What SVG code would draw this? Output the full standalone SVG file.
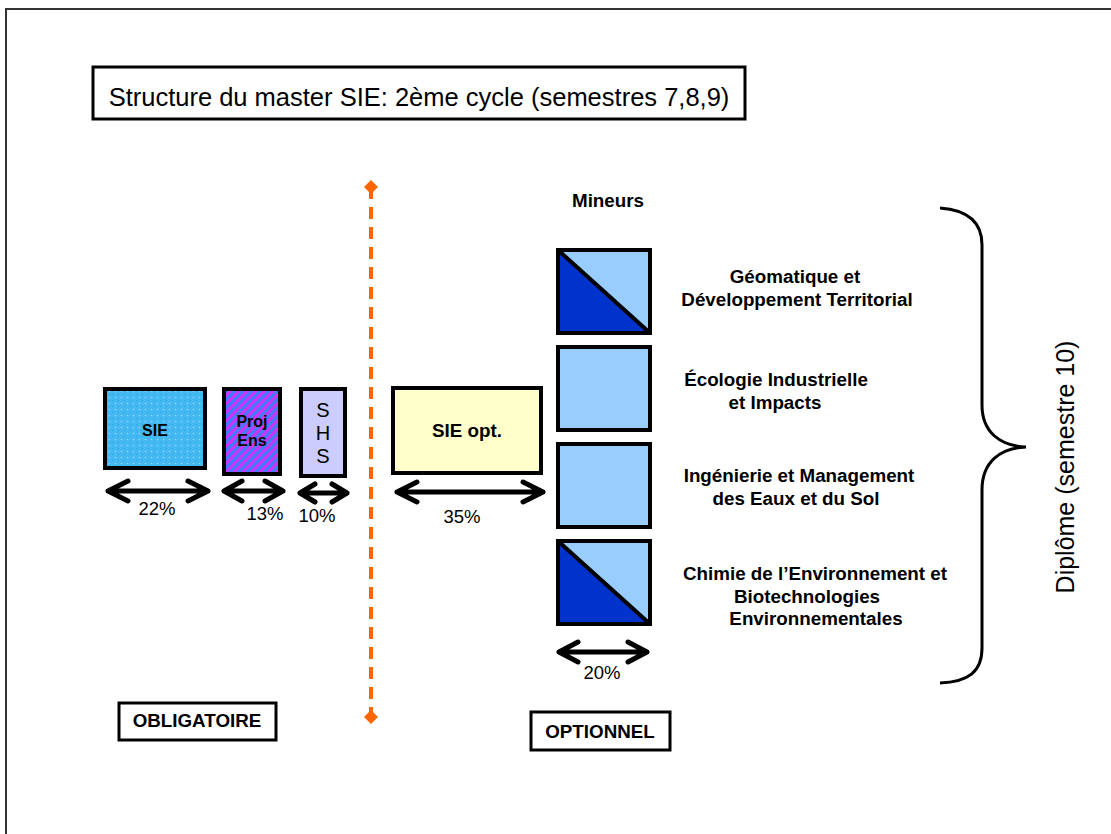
<svg xmlns="http://www.w3.org/2000/svg" width="1111" height="834" viewBox="0 0 1111 834">
<defs>
<pattern id="dots" width="6" height="6" patternUnits="userSpaceOnUse">
<rect width="6" height="6" fill="#44B8F0"/>
<circle cx="1.5" cy="1.5" r="0.8" fill="#8FD6FF"/>
<circle cx="4.5" cy="4.5" r="0.7" fill="#2FA6E6"/>
</pattern>
<pattern id="hatch" width="6" height="6" patternUnits="userSpaceOnUse" patternTransform="rotate(45)">
<rect width="6" height="6" fill="#3F7CF5"/>
<rect width="3" height="6" fill="#CC33FF"/>
</pattern>
</defs>
<style>
.box{stroke:#000;stroke-width:4}
.lbl{font-family:"Liberation Sans",Arial,sans-serif;font-weight:bold;font-size:18.8px;fill:#000;text-anchor:middle}
.sm{font-size:16px}
.pct{font-family:"Liberation Sans",Arial,sans-serif;font-size:18.5px;fill:#000;text-anchor:middle}
.arr{fill:none;stroke:#000;stroke-width:5;stroke-linecap:round;stroke-linejoin:round}
</style>
<path d="M6,834 V9 H1111" fill="none" stroke="#333" stroke-width="2"/>
<g id="title">
<rect x="93" y="67" width="652" height="52" fill="#fff" stroke="#000" stroke-width="3"/>
<text x="419" y="106" font-family="Liberation Sans,Arial,sans-serif" font-size="25.5" text-anchor="middle">Structure du master SIE: 2ème cycle (semestres 7,8,9)</text>
</g>
<g id="sie">
<rect class="box" x="105" y="389" width="100" height="79" fill="url(#dots)"/>
<text class="lbl sm" x="155" y="436">SIE</text>
</g>
<g id="proj">
<rect class="box" x="224" y="389" width="56" height="85" fill="url(#hatch)"/>
<text class="lbl sm" x="252" y="427">Proj</text>
<text class="lbl sm" x="252" y="446">Ens</text>
</g>
<g id="shs">
<rect class="box" x="301" y="389" width="44" height="87" fill="#CCCCFF"/>
<text class="pct" x="323" y="417" style="font-size:20px">S</text>
<text class="pct" x="323" y="440" style="font-size:20px">H</text>
<text class="pct" x="323" y="463" style="font-size:20px">S</text>
</g>
<g id="sieopt">
<rect class="box" x="393" y="388" width="148" height="85" fill="#FFFFCC"/>
<text class="lbl" x="467" y="437">SIE opt.</text>
</g>
<g id="divider">
<line x1="371" y1="187" x2="371" y2="717" stroke="#FF6600" stroke-width="4" stroke-dasharray="12,8"/>
<path d="M371,180 L378,187 L371,194 L364,187 Z" fill="#FF6600"/>
<path d="M371,710 L378,717 L371,724 L364,717 Z" fill="#FF6600"/>
</g>
<g id="mineurs">
<text class="lbl" x="608" y="207">Mineurs</text>
</g>
<g id="m1">
<rect x="558" y="250" width="92" height="83" fill="#99CCFF"/>
<path d="M558,250 L650,333 L558,333 Z" fill="#0033CC"/>
<rect class="box" x="558" y="250" width="92" height="83" fill="none"/>
<line x1="558" y1="250" x2="650" y2="333" stroke="#000" stroke-width="4"/>
<text class="lbl" x="795" y="283">Géomatique et</text>
<text class="lbl" x="797" y="306">Développement Territorial</text>
</g>
<g id="m2">
<rect class="box" x="558" y="347" width="92" height="83" fill="#99CCFF"/>
<text class="lbl" x="776" y="386">Écologie Industrielle</text>
<text class="lbl" x="775" y="409">et Impacts</text>
</g>
<g id="m3">
<rect class="box" x="558" y="444" width="92" height="83" fill="#99CCFF"/>
<text class="lbl" x="799" y="482">Ingénierie et Management</text>
<text class="lbl" x="796" y="505">des Eaux et du Sol</text>
</g>
<g id="m4">
<rect x="558" y="541" width="92" height="83" fill="#99CCFF"/>
<path d="M558,541 L650,624 L558,624 Z" fill="#0033CC"/>
<rect class="box" x="558" y="541" width="92" height="83" fill="none"/>
<line x1="558" y1="541" x2="650" y2="624" stroke="#000" stroke-width="4"/>
<text class="lbl" x="815" y="580">Chimie de l’Environnement et</text>
<text class="lbl" x="807" y="603">Biotechnologies</text>
<text class="lbl" x="816" y="625">Environnementales</text>
</g>
<g id="connectors">
<path class="arr" d="M108,491 H208 M128,481 L108,491 L128,501 M188,481 L208,491 L188,501"/>
<path class="arr" d="M224,491 H283 M242,481 L224,491 L242,501 M265,481 L283,491 L265,501"/>
<path class="arr" d="M300,493 H347 M315,484 L300,493 L315,502 M332,484 L347,493 L332,502"/>
<path class="arr" d="M397,492 H543 M417,482 L397,492 L417,502 M523,482 L543,492 L523,502"/>
<path class="arr" d="M559,652 H647 M578,642 L559,652 L578,662 M628,642 L647,652 L628,662"/>
</g>
<g id="pcts">
<text class="pct" x="157" y="515">22%</text>
<text class="pct" x="265" y="520">13%</text>
<text class="pct" x="317" y="522">10%</text>
<text class="pct" x="462" y="523">35%</text>
<text class="pct" x="602" y="679">20%</text>
</g>
<g id="brace">
<path d="M940,208 C968,210 982,222 982,245 V405 C982,432 1000,446 1026,447 C1000,448 982,462 982,490 V648 C982,672 968,682 940,683" fill="none" stroke="#000" stroke-width="3"/>
<text transform="translate(1074,467) rotate(-90)" font-family="Liberation Sans,Arial,sans-serif" font-size="25" text-anchor="middle">Diplôme (semestre 10)</text>
</g>
<g id="obligatoire">
<rect x="119" y="703" width="157" height="37" fill="#fff" stroke="#000" stroke-width="3"/>
<text class="lbl" x="197" y="727">OBLIGATOIRE</text>
</g>
<g id="optionnel">
<rect x="531" y="712" width="139" height="38" fill="#fff" stroke="#000" stroke-width="3"/>
<text class="lbl" x="600" y="738">OPTIONNEL</text>
</g>
</svg>
